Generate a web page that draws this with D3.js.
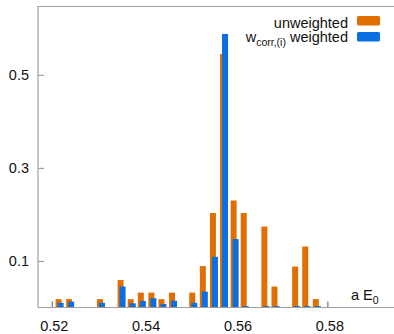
<!DOCTYPE html>
<html>
<head>
<meta charset="utf-8">
<script src="https://unpkg.com/d3@7/dist/d3.min.js"></script>
<style>
  body { margin: 0; background: #fff; }
  text { font-family: "Liberation Sans", Arial, Helvetica, sans-serif; fill: #111; }
</style>
</head>
<body>
<div class="chart"></div>
<script>
// bin centres (a E0) and normalised counts
const binCenters = [0.5217, 0.5240, 0.5307, 0.5352, 0.5374, 0.5396, 0.5419, 0.5441, 0.5464,
  0.5508, 0.5531, 0.5553, 0.5575, 0.5598, 0.5620, 0.5665, 0.5687, 0.5732, 0.5754, 0.5777];
const unweighted = [0.018, 0.018, 0.018, 0.059, 0.018, 0.032, 0.032, 0.018, 0.032,
  0.032, 0.089, 0.203, 0.545, 0.230, 0.203, 0.174, 0.045, 0.088, 0.131, 0.018];
const weighted = [0.010, 0.0125, 0.010, 0.045, 0.009, 0.014, 0.020, 0.0075, 0.0145,
  0.010, 0.034, 0.109, 0.588, 0.147, 0.003, 0.003, 0.003, 0.003, 0.003, 0.003];
const xTicks = [0.52, 0.54, 0.56, 0.58];
const yTicks = [0.1, 0.3, 0.5];

const orange = "#e06e00";
const blue = "#0a6fe1";
const axisGrey = "#a0a0a0";

const W = 394, H = 334;
const svg = d3.select(".chart").append("svg").attr("width", W).attr("height", H);

const x = d3.scaleLinear().domain([0.517, 0.5945]).range([38, 394]);
const y = d3.scaleLinear().domain([0, 0.648]).range([307.5, 6]);

// frame: top, left, bottom
svg.append("line").attr("x1", 38).attr("x2", W).attr("y1", 6.5).attr("y2", 6.5)
  .attr("stroke", axisGrey).attr("stroke-width", 1.2);
svg.append("line").attr("x1", 38).attr("x2", 38).attr("y1", 6).attr("y2", 307.5)
  .attr("stroke", axisGrey).attr("stroke-width", 1.2);

// y ticks (inward)
const yAxis = d3.axisRight(y).tickValues(yTicks).tickSize(6).tickFormat("");
const gy = svg.append("g").attr("transform", "translate(38,0)").call(yAxis);
gy.select(".domain").remove();
gy.selectAll("line").attr("stroke", axisGrey).attr("stroke-width", 1.2);
svg.selectAll(".ylab").data(yTicks).join("text")
  .attr("class", "ylab")
  .attr("x", 29).attr("y", d => y(d) + 5)
  .attr("text-anchor", "end").attr("font-size", 14.5)
  .text(d => d3.format(".1f")(d));

// x ticks (inward, drawn below bars)
const xAxis = d3.axisTop(x).tickValues(xTicks).tickSize(6).tickFormat("");
const gx = svg.append("g").attr("transform", "translate(0,307.5)").call(xAxis);
gx.select(".domain").remove();
gx.selectAll("line").attr("stroke", "#555").attr("stroke-width", 1);
svg.selectAll(".xlab").data(xTicks).join("text")
  .attr("class", "xlab")
  .attr("x", d => x(d) + 2.5).attr("y", 331)
  .attr("text-anchor", "middle").attr("font-size", 14.5)
  .text(d => d3.format(".2f")(d));

// bars
const data = binCenters.map((c, i) => ({ c, u: unweighted[i], w: weighted[i] }));
svg.selectAll(".bar-u").data(data).join("rect")
  .attr("class", "bar-u")
  .attr("x", d => x(d.c) - 4).attr("width", 6)
  .attr("y", d => y(d.u)).attr("height", d => y(0) - y(d.u))
  .attr("fill", orange);
svg.selectAll(".bar-w").data(data).join("rect")
  .attr("class", "bar-w")
  .attr("x", d => x(d.c) - 2).attr("width", 6)
  .attr("y", d => y(d.w)).attr("height", d => y(0) - y(d.w))
  .attr("fill", blue);

// bottom axis line
svg.append("line").attr("x1", 38).attr("x2", W).attr("y1", 307.5).attr("y2", 307.5)
  .attr("stroke", axisGrey).attr("stroke-width", 1.2);

// axis title
const xt = svg.append("text").attr("x", 351).attr("y", 300).attr("font-size", 14.5);
xt.append("tspan").text("a E");
xt.append("tspan").attr("font-size", 10.5).attr("dy", 4).text("0");

// legend
svg.append("text").attr("x", 348).attr("y", 27.5).attr("text-anchor", "end")
  .attr("font-size", 14.5).text("unweighted");
const lt = svg.append("text").attr("x", 348).attr("y", 42).attr("text-anchor", "end")
  .attr("font-size", 14.5);
lt.append("tspan").text("w");
lt.append("tspan").attr("font-size", 10.5).attr("dy", 4).text("corr,(i)");
lt.append("tspan").attr("dy", -4).text(" weighted");

svg.append("rect").attr("x", 357).attr("y", 16).attr("width", 23).attr("height", 9.5)
  .attr("rx", 1.5).attr("fill", orange);
svg.append("rect").attr("x", 357).attr("y", 32).attr("width", 23).attr("height", 9.5)
  .attr("rx", 1.5).attr("fill", blue);
</script>
</body>
</html>
